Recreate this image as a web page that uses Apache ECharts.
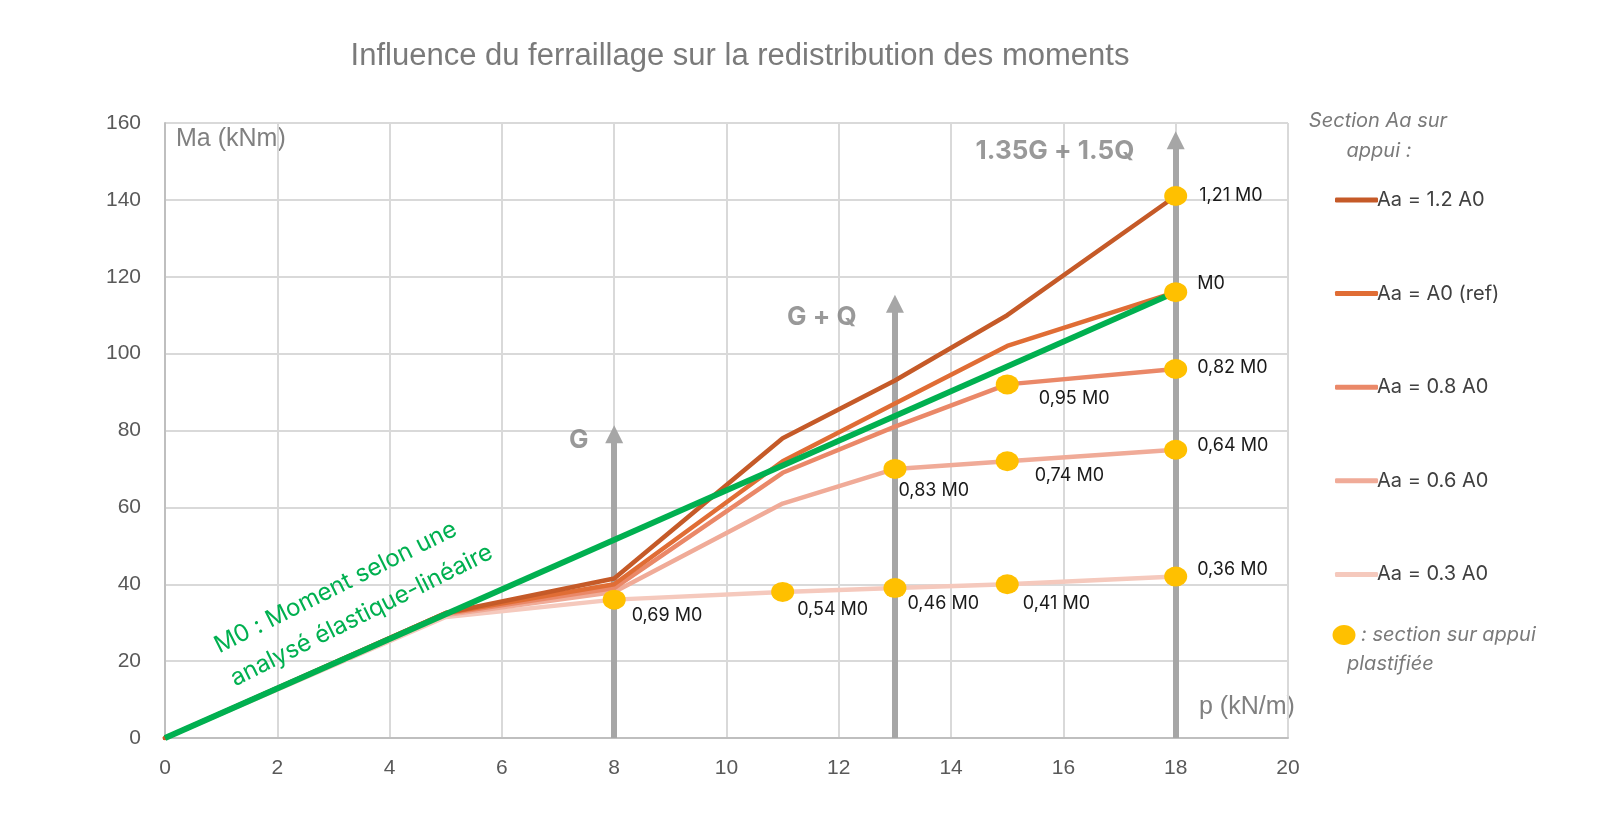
<!DOCTYPE html>
<html>
<head>
<meta charset="utf-8">
<script src="https://cdn.jsdelivr.net/npm/echarts@6/dist/echarts.min.js"></script>
<style>
  html, body { margin: 0; padding: 0; background: #fff; }
  #chart { width: 1600px; height: 834px; }
</style>
</head>
<body>
<div id="chart"></div>
<script>
// load p (kN/m) where the curves change slope
const loadP = [0, 5, 8, 11, 13, 15, 18];
const aa12 = [0, 32.5, 41.5, 78, 93, 110, 141];
const aa10 = [0, 32.5, 40, 72, 87, 102, 116];
const aa08 = [0, 32.3, 39, 69, 81, 92, 96];
const aa06 = [0, 32, 38, 61, 70, 72, 75];
const aa03 = [0, 31.5, 36, 38, 39, 40, 42];
const m0P = [0, 18];
const m0 = [0, 116];

const seriesNames = ['Aa = 1.2 A0', 'Aa = A0 (ref)', 'Aa = 0.8 A0', 'Aa = 0.6 A0', 'Aa = 0.3 A0'];

// plastified support sections
const dotP = [8, 11, 13, 15, 18, 13, 15, 18, 15, 18, 18, 18];
const dotM = [36, 38, 39, 40, 42, 70, 72, 75, 92, 96, 116, 141];
const dotLabels = ['0,69 M0', '0,54 M0', '0,46 M0', '0,41 M0', '0,36 M0', '0,83 M0', '0,74 M0', '0,64 M0', '0,95 M0', '0,82 M0', 'M0', '1,21 M0'];

// load cases (arrows)
const caseP = [8, 13, 18];
const caseTop = [79, 113, 155.5];
const caseNames = ['G', 'G + Q', '1.35G + 1.5Q'];
const caseTextP = [7.37, 11.7, 15.85];
const caseTextM = [77.5, 109.5, 152.7];

const xTicks = [0, 2, 4, 6, 8, 10, 12, 14, 16, 18, 20];
const yTicks = [0, 20, 40, 60, 80, 100, 120, 140, 160];

const lineColors = ['#c55a28', '#e06d35', '#ea8868', '#f0ab98', '#f5c9bd'];
const labelOffsets = [[6, 16], [3, 18], [1, 15], [4, 19], [10, -7], [-8, 22], [16, 14], [10, -4], [20, 14], [10, -1], [10, -9], [12, 0]];

const chart = echarts.init(document.getElementById('chart'), null, { renderer: 'canvas' });

function pairs(xs, ys) {
  return xs.map((x, i) => [x, ys[i]]);
}

const curves = [aa12, aa10, aa08, aa06, aa03];

const lineSeries = curves.map((vals, i) => ({
  name: seriesNames[i],
  type: 'line',
  data: pairs(loadP, vals),
  symbol: 'none',
  z: 10 - i,
  lineStyle: { color: lineColors[i], width: 4.5, cap: 'round', join: 'round' },
  itemStyle: { color: lineColors[i] },
  emphasis: { disabled: true }
}));

const italicNote = { fontFamily: 'Inter, sans-serif', fontStyle: 'italic', fontSize: 20, fill: '#7a7a7a' };

const option = {
  backgroundColor: '#fff',
  animation: false,
  grid: { left: 165, right: 312, top: 123, bottom: 96 },
  legend: {
    orient: 'vertical',
    left: 1330,
    top: 184,
    icon: 'roundRect',
    itemWidth: 43,
    itemHeight: 5,
    itemGap: 71.6,
    data: seriesNames,
    textStyle: { fontFamily: 'Inter, sans-serif', fontSize: 20, color: '#404040', lineHeight: 22, padding: [0, 0, 0, -6] }
  },
  xAxis: {
    type: 'value',
    min: 0,
    max: 20,
    interval: 2,
    axisLine: { show: true, onZero: false, lineStyle: { color: '#bfbfbf', width: 2 } },
    axisTick: { show: false },
    splitLine: { show: true, lineStyle: { color: '#d9d9d9', width: 2 } },
    axisLabel: {
      margin: 20,
      fontFamily: '"Liberation Sans", Arial, sans-serif',
      fontSize: 21,
      color: '#595959',
      formatter: v => (xTicks.includes(v) ? String(v) : '')
    }
  },
  yAxis: {
    type: 'value',
    min: 0,
    max: 160,
    interval: 20,
    axisLine: { show: true, lineStyle: { color: '#bfbfbf', width: 2 } },
    axisTick: { show: false },
    splitLine: { show: true, lineStyle: { color: '#d9d9d9', width: 2 } },
    axisLabel: {
      margin: 24,
      fontFamily: '"Liberation Sans", Arial, sans-serif',
      fontSize: 21,
      color: '#595959',
      formatter: v => (yTicks.includes(v) ? String(v) : '')
    }
  },
  series: [
    {
      name: 'arrows',
      type: 'line',
      data: [],
      z: 1,
      silent: true,
      markLine: {
        silent: true,
        animation: false,
        symbol: ['none', 'triangle'],
        symbolSize: [18, 18],
        label: { show: false },
        lineStyle: { color: '#a6a6a6', width: 6, type: 'solid' },
        emphasis: { disabled: true },
        data: caseP.map((p, i) => [
          { coord: [p, 0] },
          { coord: [p, caseTop[i]] }
        ])
      }
    },
    ...lineSeries,
    {
      name: 'M0',
      type: 'line',
      data: pairs(m0P, m0),
      symbol: 'none',
      z: 20,
      lineStyle: { color: '#00b050', width: 6 },
      emphasis: { disabled: true }
    },
    {
      name: 'plastifiee',
      type: 'scatter',
      data: pairs(dotP, dotM),
      symbol: 'circle',
      symbolSize: [23, 20],
      z: 30,
      itemStyle: { color: '#ffc000', opacity: 1 },
      label: {
        show: true,
        position: 'right',
        distance: 0,
        fontFamily: 'Inter, sans-serif',
        fontSize: 18,
        color: '#1a1a1a',
        formatter: p => dotLabels[p.dataIndex]
      },
      labelLayout: p => ({ dx: labelOffsets[p.dataIndex][0], dy: labelOffsets[p.dataIndex][1] }),
      emphasis: { disabled: true }
    },
    {
      name: 'cases',
      type: 'scatter',
      data: pairs(caseTextP, caseTextM),
      symbolSize: 0,
      z: 31,
      silent: true,
      label: {
        show: true,
        position: 'inside',
        fontFamily: 'Inter, sans-serif',
        fontWeight: 'bold',
        fontSize: 26,
        color: '#7f7f7f',
        formatter: p => caseNames[p.dataIndex]
      }
    }
  ],
  graphic: [
    {
      type: 'text', x: 740, y: 56,
      style: {
        text: 'Influence du ferraillage sur la redistribution des moments',
        align: 'center', verticalAlign: 'middle',
        fontFamily: '"Liberation Sans", sans-serif',
        fontSize: 31, fill: '#7a7a7a'
      }
    },
    {
      type: 'text', left: 176, top: 127,
      style: { text: 'Ma (kNm)', fontFamily: '"Liberation Sans", Arial, sans-serif', fontSize: 25, fill: '#808080' }
    },
    {
      type: 'text', left: 1199, top: 695,
      style: { text: 'p (kN/m)', fontFamily: '"Liberation Sans", Arial, sans-serif', fontSize: 25, fill: '#808080' }
    },
    {
      type: 'text', x: 1378, y: 121,
      style: Object.assign({ text: 'Section Aa sur', align: 'center', verticalAlign: 'middle' }, italicNote)
    },
    {
      type: 'text', x: 1379, y: 151,
      style: Object.assign({ text: 'appui :', align: 'center', verticalAlign: 'middle' }, italicNote)
    },
    {
      type: 'ellipse', shape: { cx: 1344, cy: 635, rx: 11.5, ry: 10 },
      style: { fill: '#ffc000' }
    },
    {
      type: 'text', x: 1361, y: 635,
      style: Object.assign({ text: ': section sur appui', verticalAlign: 'middle' }, italicNote)
    },
    {
      type: 'text', x: 1347, y: 664,
      style: Object.assign({ text: 'plastifiée', verticalAlign: 'middle' }, italicNote)
    },
    {
      type: 'text', x: 216, y: 647, rotation: 26.5 * Math.PI / 180, z: 40,
      style: { text: 'M0 : Moment selon une', verticalAlign: 'middle', fontFamily: 'Inter, sans-serif', fontSize: 24, fill: '#00b050' }
    },
    {
      type: 'text', x: 232, y: 680, rotation: 26.5 * Math.PI / 180, z: 40,
      style: { text: 'analysé élastique-linéaire', verticalAlign: 'middle', fontFamily: 'Inter, sans-serif', fontSize: 24, fill: '#00b050' }
    }
  ]
};

chart.setOption(option);
</script>
</body>
</html>
